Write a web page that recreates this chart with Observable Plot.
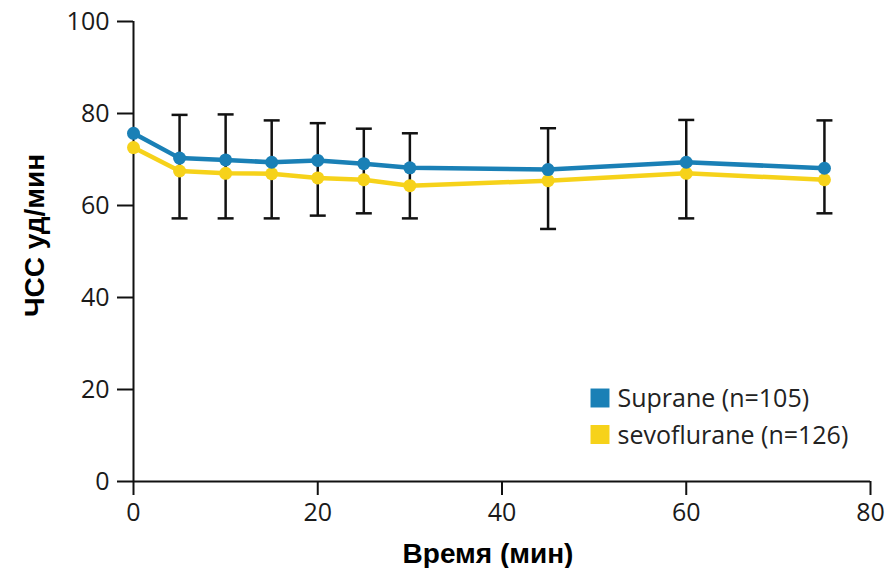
<!DOCTYPE html>
<html>
<head>
<meta charset="utf-8">
<script src="https://cdn.jsdelivr.net/npm/d3@7"></script>
<script src="https://cdn.jsdelivr.net/npm/@observablehq/plot@0.6"></script>
<style>
  html, body { margin: 0; padding: 0; background: #fff; }
</style>
</head>
<body>
<div id="chart"></div>
<script>
const times = [0, 5, 10, 15, 20, 25, 30, 45, 60, 75];
const suprane = [75.7, 70.3, 69.9, 69.4, 69.8, 69.1, 68.2, 67.8, 69.4, 68.1];
const sevoflurane = [72.6, 67.5, 67.0, 66.9, 66.0, 65.6, 64.3, 65.4, 67.0, 65.6];
const errHigh = [null, 79.7, 79.8, 78.5, 77.9, 76.7, 75.7, 76.8, 78.6, 78.5];
const errLow = [null, 57.2, 57.2, 57.2, 57.8, 58.3, 57.2, 54.9, 57.2, 58.3];
const xTicks = [0, 20, 40, 60, 80];
const yTicks = [0, 20, 40, 60, 80, 100];
const seriesNames = ["Suprane (n=105)", "sevoflurane (n=126)"];
const seriesColors = ["#1a80b6", "#f6d21a"];
const xTitle = "Время (мин)";
const yTitle = "ЧСС уд/мин";

const supData = times.map((t, i) => ({t, v: suprane[i]}));
const sevData = times.map((t, i) => ({t, v: sevoflurane[i]}));
const errData = times.map((t, i) => ({t, hi: errHigh[i], lo: errLow[i]})).filter(d => d.hi != null);
const legendData = seriesNames.map((name, i) => ({name, color: seriesColors[i], i}));

const capSymbol = {
  draw(context, size) {
    context.moveTo(-8, 0);
    context.lineTo(8, 0);
  }
};

// legend placement relative to the plot frame's bottom-left corner
function legendRender(dxL, dyL, step, sel) {
  return function(index, scales, values, dims, context, next) {
    const g = next(index, scales, values, dims, context);
    d3.select(g).selectAll(sel).attr("transform", (_, j) => {
      const i = index[j];
      return `translate(${dims.marginLeft + dxL},${dims.height - dims.marginBottom + dyL + i * step})`;
    });
    return g;
  };
}

const chart = Plot.plot({
  width: 889,
  height: 568,
  marginLeft: 133,
  marginRight: 19,
  marginTop: 21,
  marginBottom: 87,
  style: {fontFamily: "'Open Sans', sans-serif", color: "#1a1a1a", background: "#fff"},
  x: {domain: [0, 80]},
  y: {domain: [0, 100]},
  marks: [
    Plot.axisX({ticks: xTicks, tickSize: 14, tickPadding: 8, fontSize: 25, label: null, strokeWidth: 2, stroke: "#111"}),
    Plot.axisY({ticks: yTicks, tickSize: 16, tickPadding: 8, fontSize: 25, label: null, strokeWidth: 2, stroke: "#111"}),
    Plot.ruleY([0], {stroke: "#111", strokeWidth: 2}),
    Plot.ruleX([0], {stroke: "#111", strokeWidth: 2}),
    Plot.ruleX(errData, {x: "t", y1: "lo", y2: "hi", stroke: "#111", strokeWidth: 2.5}),
    Plot.dot(errData, {x: "t", y: "hi", symbol: capSymbol, stroke: "#111", strokeWidth: 2.5, r: 5}),
    Plot.dot(errData, {x: "t", y: "lo", symbol: capSymbol, stroke: "#111", strokeWidth: 2.5, r: 5}),
    Plot.line(sevData, {x: "t", y: "v", stroke: seriesColors[1], strokeWidth: 4.5}),
    Plot.dot(sevData, {x: "t", y: "v", fill: seriesColors[1], r: 6.5}),
    Plot.line(supData, {x: "t", y: "v", stroke: seriesColors[0], strokeWidth: 4.5}),
    Plot.dot(supData, {x: "t", y: "v", fill: seriesColors[0], r: 6.5}),
    // legend
    Plot.dot(legendData, {frameAnchor: "bottom-left", fill: "color", symbol: "square", r: 10.7,
      render: legendRender(466.5, -83.5, 36.5, "path")}),
    Plot.text(legendData, {frameAnchor: "bottom-left", text: "name", textAnchor: "start", lineAnchor: "middle",
      fontSize: 25, fill: "#222", render: legendRender(484, -82.5, 36.5, "text")}),
    // axis titles
    Plot.text([yTitle], {frameAnchor: "left", text: d => d, textAnchor: "middle", lineAnchor: "middle",
      rotate: -90, dx: -98, dy: -16,
      fontSize: 28, fontWeight: "bold", fontFamily: "'Liberation Sans', Arial, sans-serif", fill: "#000"}),
    Plot.text([xTitle], {frameAnchor: "bottom", text: d => d, textAnchor: "middle", lineAnchor: "middle",
      dx: -14, dy: 73,
      fontSize: 28, fontWeight: "bold", fontFamily: "'Liberation Sans', Arial, sans-serif", fill: "#000"})
  ]
});
document.getElementById("chart").appendChild(chart);
</script>
</body>
</html>
